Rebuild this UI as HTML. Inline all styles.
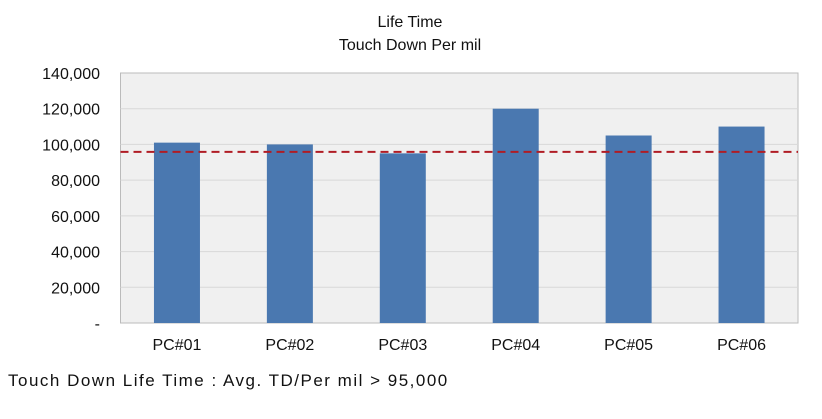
<!DOCTYPE html>
<html><head><meta charset="utf-8"><style>
body{margin:0;background:#fff;width:822px;height:414px;overflow:hidden;font-family:"Liberation Sans",sans-serif}
</style></head><body>
<svg id="chart" width="822" height="414">
<text x="410" y="27" text-anchor="middle" font-size="16" fill="#111">Life Time</text>
<text x="410" y="50" text-anchor="middle" font-size="16" fill="#111">Touch Down Per mil</text>
<rect x="120.5" y="73" width="677.5" height="250" fill="#f0f0f0" stroke="#bbb"/>
<g id="grid"></g><g id="bars"></g><g id="yticks"></g><g id="xticks"></g>
<text x="8" y="386" font-size="17" fill="#111" letter-spacing="1.5">Touch Down Life Time : Avg. TD/Per mil &gt; 95,000</text>
</svg>
<script>
const categories=["PC#01","PC#02","PC#03","PC#04","PC#05","PC#06"];
const values=[101000,100000,95000,120000,105000,110000];
const threshold=[95800];
const yTicks=[0,20000,40000,60000,80000,100000,120000,140000];
const yTickLabels=["-","20,000","40,000","60,000","80,000","100,000","120,000","140,000"];
const NS="http://www.w3.org/2000/svg";
const L=120.5,R=798,T=73,B=323,yMax=140000;
const y=v=>B-(v/yMax)*(B-T);
const bw=(R-L)/categories.length;
const x=i=>L+bw*(i+0.5);
function mk(tag,attrs,parent){const e=document.createElementNS(NS,tag);for(const k in attrs)e.setAttribute(k,attrs[k]);document.getElementById(parent).appendChild(e);return e;}
yTicks.forEach((t,i)=>{
 if(t>0&&t<yMax){const g=mk('line',{x1:L,x2:R,y1:y(t),y2:y(t),stroke:'#d8d8d8'},'grid');
 
 }
 const tx=mk('text',{x:100,y:y(t)+6,'text-anchor':'end','font-size':16,fill:'#111'},'yticks');
 tx.textContent=yTickLabels[i];
 
 
});
values.forEach((v,i)=>{
 const r=mk('rect',{x:x(i)-23,y:y(v),width:46,height:B-y(v),fill:'#4a78b0'},'bars');
 
 
 const t=mk('text',{x:x(i),y:350,'text-anchor':'middle','font-size':16,fill:'#111'},'xticks');
 t.textContent=categories[i];
 
 
});
const th=mk('line',{x1:L,x2:R,y1:y(threshold[0]),y2:y(threshold[0]),stroke:'#b01c24','stroke-width':2,'stroke-dasharray':'8,5'},'bars');


</script>
</body></html>
